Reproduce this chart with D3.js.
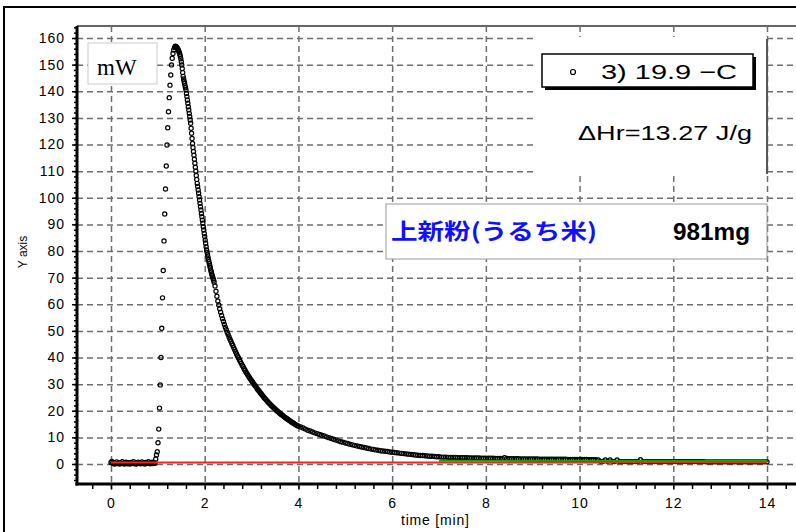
<!doctype html>
<html lang="ja">

<head>
    <meta charset="utf-8">
    <title>上新粉 heat flow</title>
    <style>
        body {
            margin: 0px;
            background: #fff;
        }

        svg {
            display: block;
        }

        .tick text {
            font-family: "Liberation Sans", Arial, sans-serif;
            font-size: 14px;
            letter-spacing: 1px;
            fill: #000;
        }

        .grid line {
            stroke: #6e6e6e;
            stroke-width: 1.5;
            stroke-dasharray: 6, 4;
        }

        .grid .domain,
        .minor .domain,
        .major .domain {
            display: none;
        }

        .minor line,
        .major line {
            stroke: #000;
            stroke-width: 1.5;
        }

        .dot {
            fill: none;
            stroke: #000;
            stroke-width: 1.2;
        }
    </style>
</head>

<body>
</body>
<script src="https://cdn.jsdelivr.net/npm/d3@7"></script>
<script>
    // ticks
    const xTicks = [0, 2, 4, 6, 8, 10, 12, 14];
    const yTicks = [0, 10, 20, 30, 40, 50, 60, 70, 80, 90, 100, 110, 120, 130, 140, 150, 160];

    // measured heat flow [mW], sampled segments (start time, step in min, values)
    const baseValues = [0.6, 1.0, 0.2, 0.5, 0.0, 0.3, 0.8, 0.2, 0.4, 0.0,
        0.5, 0.2, 0.9, 0.3, 0.0, 0.4, 0.7, 0.1, 0.3, 0.5,
        0.0, 0.6, 0.2, 0.4, 0.9, 0.1, 0.3, 0.0, 0.5, 0.7,
        0.2, 0.4, 0.1, 0.8, 0.3, 0.5, 0.0, 0.6, 0.2, 0.4,
        0.9, 0.3, 0.1, 0.5, 0.7, 0.2, 0.4, 0.3];
    const riseValues = [1.9, 3.4, 4.6, 8.0, 13.1, 21.0, 29.7, 40.0, 51.0, 62.4,
        72.7, 83.8, 93.9, 103.3, 111.9, 119.8, 126.3, 132.3, 137.6, 142.3,
        146.1, 149.9, 152.4, 154.2, 155.5, 156.4, 156.9];
    const peakValues = [156.8, 156.7, 156.5, 156.3, 156.0, 155.7, 155.3, 154.9, 154.4, 153.8,
        153.1, 152.2, 151.1, 149.9, 148.5, 147.0, 145.6, 144.6, 143.8, 143.0,
        142.1, 141.3, 140.5, 139.2, 138.0, 136.7, 135.5, 134.2, 133.0, 131.7,
        130.5, 129.2, 128.0, 126.1, 124.2, 122.3, 120.4, 118.9, 117.4, 116.0,
        114.5, 113.0, 111.5, 110.0, 108.4, 106.9, 105.4, 104.2, 102.9, 101.7,
        100.4, 99.2, 97.9, 96.6, 95.4, 94.1, 92.9, 91.6, 90.4, 89.1,
        87.9, 86.6, 85.4, 84.1, 82.9, 81.6, 80.4, 79.5, 78.6, 77.7,
        76.8, 76.0, 75.2, 74.4, 73.6, 72.8, 72.1, 71.4, 70.8, 70.2,
        69.6, 69.0, 68.3];
    const decayValues = [66.9, 64.9, 63.0, 61.2, 59.7, 58.3, 57.0, 55.8, 54.6, 53.5,
        52.4, 51.4, 50.4, 49.5, 48.6, 47.7, 46.9, 46.1, 45.3, 44.5,
        43.7, 42.9, 42.1, 41.3, 40.6, 39.9, 39.2, 38.5, 37.8, 37.1,
        36.5, 35.8, 35.2, 34.6, 34.0, 33.4, 32.9, 32.3, 31.8, 31.3,
        30.8, 30.3, 29.8, 29.3, 28.8, 28.3, 27.8, 27.4, 26.9, 26.5,
        26.0, 25.6, 25.1, 24.7, 24.3, 23.9, 23.5, 23.1, 22.7, 22.4,
        22.0, 21.7, 21.3, 21.0, 20.7, 20.3, 20.0, 19.7, 19.4, 19.1,
        18.8, 18.5, 18.3, 18.0, 17.7, 17.4, 17.2, 16.9, 16.7, 16.4,
        16.2, 15.9, 15.7, 15.5, 15.2, 15.0, 14.8, 14.6, 14.4, 14.2];
    const slowValues = [13.9, 13.5, 13.1, 12.7, 12.4, 12.0, 11.7, 11.4, 11.1, 10.8,
        10.5, 10.2, 9.9, 9.6, 9.3, 9.0, 8.7, 8.4, 8.2, 7.9,
        7.7, 7.4, 7.2, 7.0, 6.8, 6.6, 6.4, 6.2, 6.0, 5.8,
        5.6, 5.5, 5.3, 5.2, 5.0, 4.9, 4.8, 4.7, 4.5, 4.4,
        4.3, 4.2, 4.1, 4.0, 3.9, 3.8, 3.7, 3.6, 3.5, 3.4,
        3.3, 3.2, 3.2, 3.1, 3.0, 2.9, 2.9, 2.8, 2.7, 2.7];
    const endValues = [2.6, 2.6, 2.6, 2.5, 2.5, 2.5, 2.5, 2.4, 2.4, 2.4,
        2.4, 2.4, 2.3, 2.3, 2.3, 2.3, 2.3, 2.2, 2.2, 2.2,
        2.2, 2.2, 2.2, 2.1, 2.1, 2.1, 2.1, 2.4, 2.1, 2.0,
        2.0, 2.0, 2.0, 2.0, 1.9, 1.9, 1.9, 1.9, 1.9, 1.9,
        1.9, 1.9, 1.8, 1.8, 1.8, 1.8, 1.8, 1.8, 1.8, 1.8,
        1.8, 1.8, 1.8, 1.8, 1.7, 1.7, 1.7, 1.7, 1.7, 1.7,
        1.7, 1.7, 1.7, 1.6, 1.6, 1.6, 1.6, 1.5,
        1.0, 1.0, 1.5, 1.0, 1.5, 1.0, 0.9, 1.5, 0.9, 0.9,
        0.9, 0.9, 0.9, 0.9, 0.9, 0.9, 0.9, 1.6, 0.9, 0.9,
        0.9, 0.9, 0.9, 0.9, 0.9, 0.9, 0.9, 0.9, 0.9, 0.9,
        0.9, 0.9, 0.9, 0.9, 0.9, 0.9, 0.9, 0.9, 0.9, 0.9,
        0.9, 0.9, 0.9, 0.9, 0.9, 0.8, 0.8, 0.8, 0.8, 0.8,
        0.8, 0.8, 0.8, 0.8, 0.8, 0.8, 0.8, 0.8, 0.8, 0.8,
        0.8, 0.8, 0.8, 0.8, 0.8, 0.8, 0.8, 0.8, 0.8, 0.8, 0.8, 0.8];

    const segments = [
        { t0: 0, step: 0.02, values: baseValues },
        { t0: 0.955, step: 0.016, values: riseValues },
        { t0: 1.38, step: 0.01, values: peakValues },
        { t0: 2.22, step: 0.02, values: decayValues },
        { t0: 4.05, step: 0.05, values: slowValues },
        { t0: 7.05, step: 0.05, values: endValues }
    ];

    // baselines [time, mW]
    const redBaseline = [[0, 0.55], [14, 0.55]];
    const greenBaseline = [[7.0, 1.25], [14, 1.1]];

    const legendText = '3) 19.9 \u2212C';
    const heatText = '\u0394Hr=13.27 J/g';
    const sampleName = '上新粉(うるち米)';
    const sampleMass = '981mg';
    const unitText = 'mW';

    const W = 796, H = 532;
    const plotLeft = 77, plotTop = 26, plotBottom = 484;

    const svg = d3.select('body').append('svg')
        .attr('width', W)
        .attr('height', H);

    const x = d3.scaleLinear().domain([0, 14]).range([111, 767]);
    const y = d3.scaleLinear().domain([0, 160]).range([464, 38]);

    let points = [];
    for (let seg of segments) {
        seg.values.forEach(function (v, i) {
            points.push({ t: seg.t0 + i * seg.step, v: v });
        });
    }

    // outer frame
    svg.append('rect')
        .attr('x', 4).attr('y', 7)
        .attr('width', W + 10).attr('height', H)
        .attr('fill', '#fff')
        .attr('stroke', '#000')
        .attr('stroke-width', 2);

    // top border of plot
    svg.append('line')
        .attr('x1', plotLeft).attr('x2', W)
        .attr('y1', plotTop).attr('y2', plotTop)
        .attr('stroke', '#333').attr('stroke-width', 1.5);

    // grid
    svg.append('g')
        .attr('class', 'grid')
        .attr('transform', `translate(${plotLeft},0)`)
        .call(d3.axisRight(y).tickValues(yTicks).tickSize(W - plotLeft).tickFormat(''));

    svg.append('g')
        .attr('class', 'grid')
        .attr('transform', `translate(0,${plotTop})`)
        .call(d3.axisBottom(x).tickValues(xTicks).tickSize(plotBottom - plotTop + 6).tickFormat(''));

    // white panel behind legend
    svg.append('rect')
        .attr('x', 537).attr('y', 37)
        .attr('width', 230).attr('height', 138)
        .attr('fill', '#fff');
    svg.append('line')
        .attr('x1', 767).attr('x2', 767)
        .attr('y1', 39).attr('y2', 174)
        .attr('stroke', '#555').attr('stroke-width', 2);

    // legend box with shadow
    svg.append('rect')
        .attr('x', 545).attr('y', 57)
        .attr('width', 211).attr('height', 33)
        .attr('fill', '#000');
    svg.append('rect')
        .attr('x', 542).attr('y', 54)
        .attr('width', 211).attr('height', 33)
        .attr('fill', '#fff')
        .attr('stroke', '#000')
        .attr('stroke-width', 1.5);
    svg.append('circle')
        .attr('cx', 573).attr('cy', 72).attr('r', 2.5)
        .attr('fill', 'none').attr('stroke', '#000').attr('stroke-width', 1.2);
    svg.append('text')
        .attr('x', 601).attr('y', 79)
        .attr('textLength', 136)
        .attr('lengthAdjust', 'spacingAndGlyphs')
        .style('font-family', '"Liberation Sans", Arial, sans-serif')
        .style('font-size', '21px')
        .text(legendText);

    svg.append('text')
        .attr('x', 578).attr('y', 140)
        .attr('textLength', 174)
        .attr('lengthAdjust', 'spacingAndGlyphs')
        .style('font-family', '"Liberation Sans", Arial, sans-serif')
        .style('font-size', '21px')
        .text(heatText);

    // sample label box
    svg.append('rect')
        .attr('x', 386).attr('y', 204)
        .attr('width', 381).attr('height', 55)
        .attr('fill', '#fff')
        .attr('stroke', '#999').attr('stroke-width', 1);
    svg.append('text')
        .attr('x', 391).attr('y', 239)
        .attr('textLength', 206)
        .attr('lengthAdjust', 'spacingAndGlyphs')
        .style('font-family', '"Noto Sans CJK JP", sans-serif')
        .style('font-weight', 'bold')
        .style('font-size', '22px')
        .attr('fill', '#1010ff')
        .text(sampleName);
    svg.append('text')
        .attr('x', 673).attr('y', 240)
        .attr('textLength', 77)
        .attr('lengthAdjust', 'spacingAndGlyphs')
        .style('font-family', '"Liberation Sans", Arial, sans-serif')
        .style('font-weight', 'bold')
        .style('font-size', '23px')
        .text(sampleMass);

    // unit box
    svg.append('rect')
        .attr('x', 88).attr('y', 43)
        .attr('width', 69).attr('height', 41)
        .attr('fill', '#fff')
        .attr('stroke', '#ccc').attr('stroke-width', 1);
    svg.append('text')
        .attr('x', 97).attr('y', 75)
        .style('font-family', '"Liberation Serif", "Times New Roman", serif')
        .style('font-size', '23px')
        .text(unitText);

    // axes
    const yMinor = d3.range(-6, 165, 2);
    svg.append('g')
        .attr('class', 'minor')
        .attr('transform', `translate(${plotLeft},0)`)
        .call(d3.axisLeft(y).tickValues(yMinor).tickSize(3).tickFormat(''));
    svg.append('g')
        .attr('class', 'major')
        .attr('transform', `translate(${plotLeft},0)`)
        .call(d3.axisLeft(y).tickValues(yTicks).tickSize(5).tickPadding(7));

    const xMinor = d3.range(-0.4, 14.7, 0.4);
    svg.append('g')
        .attr('class', 'minor')
        .attr('transform', `translate(0,${plotBottom})`)
        .call(d3.axisBottom(x).tickValues(xMinor).tickSize(5).tickFormat(''));
    svg.append('g')
        .attr('class', 'major')
        .attr('transform', `translate(0,${plotBottom})`)
        .call(d3.axisBottom(x).tickValues(xTicks).tickSize(0).tickPadding(14));

    svg.append('line')
        .attr('x1', plotLeft).attr('x2', plotLeft)
        .attr('y1', plotTop).attr('y2', plotBottom + 1.5)
        .attr('stroke', '#000').attr('stroke-width', 3);
    svg.append('line')
        .attr('x1', plotLeft - 1.5).attr('x2', W)
        .attr('y1', plotBottom).attr('y2', plotBottom)
        .attr('stroke', '#000').attr('stroke-width', 3);

    svg.append('text')
        .attr('x', 401).attr('y', 525)
        .style('font-family', '"Liberation Sans", Arial, sans-serif')
        .style('font-size', '14px')
        .style('letter-spacing', '0.8px')
        .text('time [min]');

    svg.append('text')
        .attr('transform', 'translate(27,252) rotate(-90)')
        .attr('text-anchor', 'middle')
        .style('font-family', '"Liberation Sans", Arial, sans-serif')
        .style('font-size', '12px')
        .text('Y axis');

    // data
    svg.append('g').selectAll('circle')
        .data(points)
        .enter()
        .append('circle')
        .attr('class', 'dot')
        .attr('r', 2.1)
        .attr('cx', d => x(d.t))
        .attr('cy', d => y(d.v));

    const line = d3.line().x(d => x(d[0])).y(d => y(d[1]));
    svg.append('path')
        .attr('d', line(greenBaseline))
        .attr('fill', 'none')
        .attr('stroke', '#00b000')
        .attr('stroke-width', 2);
    svg.append('path')
        .attr('d', line(redBaseline))
        .attr('fill', 'none')
        .attr('stroke', '#ff2020')
        .attr('stroke-width', 2);
</script>

</html>
